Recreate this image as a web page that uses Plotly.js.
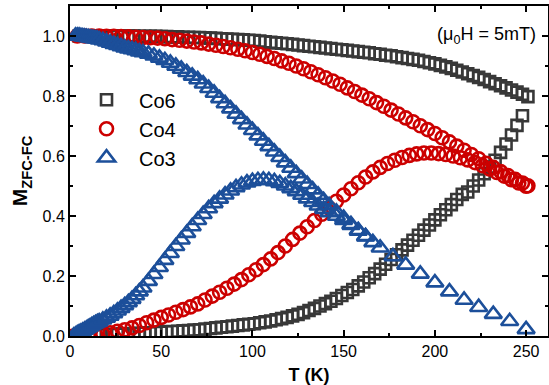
<!DOCTYPE html>
<html>
<head>
<meta charset="utf-8">
<script src="https://cdn.plot.ly/plotly-3.0.1.min.js"></script>
<style>html,body{margin:0;padding:0;background:#fff;}#chart{width:549px;height:385px;}</style>
</head>
<body>
<div id="chart"></div>
<script>
// ---- Co6 (gray squares) ----
const co6_fc_T = [5,8,11,14,17,20,23,26,29,32,35,38,41,44,47,50,53,56,59,62,65,68,71,74,77,80,83,86,89,92,95,98,101,104,107,110,113,116,119,122,125,128,131,134,137,140,143,146,149,152,155,158,161,164,167,170,173,176,179,182,185,188,191,194,197,200,203,206,209,212,215,218,221,224,227,230,233,236,239,242,245,248,251];
const co6_fc_M = [1.000,1.000,1.000,1.000,1.000,1.000,1.000,1.000,1.000,1.000,1.000,0.999,0.999,0.999,0.999,0.998,0.998,0.997,0.997,0.996,0.996,0.995,0.995,0.994,0.993,0.992,0.991,0.990,0.989,0.988,0.987,0.986,0.985,0.983,0.981,0.979,0.977,0.976,0.974,0.972,0.970,0.968,0.966,0.964,0.962,0.960,0.958,0.956,0.954,0.952,0.950,0.948,0.946,0.944,0.941,0.939,0.936,0.934,0.931,0.928,0.925,0.922,0.919,0.915,0.911,0.907,0.902,0.897,0.892,0.886,0.880,0.874,0.868,0.862,0.855,0.848,0.841,0.834,0.827,0.820,0.813,0.806,0.798];
const co6_zfc_T = [5,8,11,14,17,20,23,26,29,32,35,38,41,44,47,50,53,56,59,62,65,68,71,74,77,80,83,86,89,92,95,98,101,104,107,110,113,116,119,122,125,128,131,134,137,140,143,146,149,152,155,158,161,164,167,170,173,176,179,182,185,188,191,194,197,200,203,206,209,212,215,218,221,224,227,230,233,236,239,242,245,248];
const co6_zfc_M = [0.000,0.001,0.002,0.003,0.004,0.005,0.005,0.006,0.007,0.007,0.008,0.009,0.010,0.011,0.012,0.013,0.014,0.015,0.016,0.017,0.018,0.020,0.021,0.023,0.025,0.027,0.029,0.031,0.033,0.035,0.037,0.039,0.041,0.044,0.047,0.050,0.054,0.058,0.062,0.067,0.072,0.078,0.085,0.092,0.100,0.108,0.116,0.125,0.135,0.145,0.155,0.167,0.180,0.194,0.208,0.223,0.239,0.255,0.271,0.287,0.303,0.319,0.336,0.353,0.370,0.387,0.404,0.421,0.438,0.455,0.472,0.480,0.500,0.520,0.541,0.563,0.586,0.612,0.640,0.670,0.702,0.734];

// ---- Co4 (red circles) ----
const co4_fc_T = [4,8,12,16,20,24,28,32,36,40,44,48,52,56,60,64,68,72,76,80,84,88,92,96,100,104,108,112,116,120,124,128,132,136,140,144,148,152,156,160,164,168,172,176,180,184,188,192,196,200,204,208,212,216,220,224,228,232,236,240,244,248,251];
const co4_fc_M = [1.000,1.000,1.000,1.000,0.999,0.999,0.998,0.997,0.996,0.995,0.994,0.993,0.991,0.988,0.986,0.983,0.980,0.977,0.973,0.969,0.965,0.961,0.956,0.951,0.945,0.939,0.932,0.925,0.917,0.909,0.900,0.891,0.881,0.871,0.861,0.850,0.839,0.827,0.815,0.803,0.791,0.778,0.766,0.753,0.740,0.727,0.714,0.701,0.688,0.675,0.661,0.647,0.633,0.619,0.605,0.591,0.576,0.562,0.548,0.535,0.522,0.510,0.501];
const co4_zfc_T = [2,6,10,14,18,22,26,30,34,38,42,46,50,54,58,62,66,70,74,78,82,86,90,94,98,102,106,110,114,118,122,126,130,134,138,142,146,150,154,158,162,166,170,174,178,182,186,190,194,198,202,206,210,214,218,222,226,230,234,238,242,246,250];
const co4_zfc_M = [0.000,0.001,0.002,0.004,0.007,0.011,0.016,0.021,0.027,0.035,0.044,0.053,0.062,0.070,0.079,0.088,0.097,0.107,0.120,0.133,0.146,0.159,0.173,0.188,0.204,0.221,0.238,0.257,0.278,0.300,0.322,0.343,0.364,0.385,0.406,0.427,0.449,0.470,0.491,0.511,0.530,0.547,0.562,0.575,0.586,0.595,0.602,0.607,0.610,0.610,0.608,0.605,0.600,0.594,0.587,0.578,0.568,0.557,0.545,0.533,0.521,0.510,0.499];

// ---- Co3 (blue triangles) ----
const co3_fc_T = [3,4,5,6,7,8,9,10,11,12,13,14,15,16,18,20,22,24,26,28,30,32,34,36,38,40,43,46,49,52,55,58,61,64,67,70,73,76,79,82,85,88,91,94,97,100,103,106,109,112,115,118,121,124,127,130,133,136,139,142,146,150,154,158,162,166,170,177,184,192,200,208,216,224,232,241,250];
const co3_fc_M = [1.000,1.000,1.000,0.999,0.998,0.997,0.996,0.995,0.994,0.993,0.992,0.991,0.990,0.988,0.985,0.981,0.977,0.973,0.969,0.965,0.961,0.958,0.955,0.952,0.948,0.945,0.940,0.934,0.927,0.919,0.910,0.900,0.890,0.879,0.867,0.855,0.841,0.826,0.810,0.792,0.775,0.758,0.740,0.722,0.704,0.686,0.668,0.650,0.632,0.614,0.596,0.578,0.560,0.542,0.524,0.506,0.488,0.470,0.452,0.435,0.414,0.393,0.372,0.352,0.332,0.312,0.294,0.265,0.237,0.207,0.178,0.148,0.120,0.096,0.073,0.049,0.022];
const co3_zfc_T = [2,3,4,5,6,7,8,9,10,11,12,13,14,15,16,18,20,22,24,26,28,30,32,34,36,38,40,43,46,49,52,55,58,61,64,67,70,73,76,79,82,85,88,91,94,97,100,103,106,109,112,115,118,121,124,127,130,133,136,139,142,146,150,154,158,162];
const co3_zfc_M = [0.000,0.004,0.008,0.011,0.014,0.017,0.020,0.024,0.028,0.031,0.035,0.039,0.042,0.045,0.048,0.054,0.060,0.067,0.075,0.084,0.093,0.102,0.112,0.123,0.135,0.148,0.161,0.183,0.206,0.229,0.253,0.276,0.299,0.321,0.343,0.365,0.386,0.406,0.425,0.442,0.457,0.471,0.484,0.495,0.504,0.511,0.516,0.519,0.520,0.519,0.515,0.509,0.501,0.492,0.482,0.470,0.458,0.446,0.434,0.423,0.412,0.400,0.386,0.369,0.350,0.331];

const xTickVals = [0,50,100,150,200,250];
const yTickVals = [0,0.2,0.4,0.6,0.8,1.0];
const yTickText = ['0.0','0.2','0.4','0.6','0.8','1.0'];

const GRAY = '#383838', RED = '#cc0000', BLUE = '#1c4f9a';
const FONT = 'Liberation Sans, Arial, sans-serif';

function tr(x, y, name, color, symbol, size, show) {
  return {
    x: x, y: y, type: 'scatter', mode: 'markers', name: name,
    showlegend: show, legendgroup: name,
    marker: {symbol: symbol, size: size, color: color, line: {color: color, width: 2.6}}
  };
}

const data = [
  tr(co6_fc_T, co6_fc_M, 'Co6', GRAY, 'square-open', 11, true),
  tr(co6_zfc_T, co6_zfc_M, 'Co6', GRAY, 'square-open', 11, false),
  tr(co4_fc_T, co4_fc_M, 'Co4', RED, 'circle-open', 13, true),
  tr(co4_zfc_T, co4_zfc_M, 'Co4', RED, 'circle-open', 13, false),
  tr(co3_fc_T, co3_fc_M, 'Co3', BLUE, 'triangle-up-open', 15, true),
  tr(co3_zfc_T, co3_zfc_M, 'Co3', BLUE, 'triangle-up-open', 15, false)
];

const axisCommon = {
  showline: true, linecolor: '#000', linewidth: 2, mirror: 'allticks',
  ticks: 'inside', ticklen: 6, tickwidth: 2, tickcolor: '#000',
  showgrid: false, zeroline: false,
  tickfont: {family: FONT, size: 16, color: '#000'}
};

const layout = {
  width: 549, height: 385,
  margin: {l: 70, r: 1, t: 6, b: 49},
  paper_bgcolor: '#fff', plot_bgcolor: '#fff',
  xaxis: Object.assign({}, axisCommon, {
    range: [0, 262], tickvals: xTickVals,
    minor: {dtick: 25, ticks: 'inside', ticklen: 3, tickwidth: 2, tickcolor: '#000', tick0: 0},
    title: {text: '<b>T (K)</b>', font: {family: FONT, size: 18, color: '#000'}, standoff: 10}
  }),
  yaxis: Object.assign({}, axisCommon, {
    range: [0, 1.1], tickvals: yTickVals, ticktext: yTickText,
    minor: {dtick: 0.1, ticks: 'inside', ticklen: 3, tickwidth: 2, tickcolor: '#000', tick0: 0},
    title: {text: '<b>M<sub>ZFC-FC</sub></b>', font: {family: FONT, size: 21, color: '#000'}, standoff: 9}
  }),
  legend: {
    x: 0.0084, y: 0.775, xanchor: 'left', yanchor: 'top',
    bgcolor: 'rgba(0,0,0,0)', borderwidth: 0,
    font: {family: FONT, size: 20, color: '#000'},
    itemwidth: 55, tracegroupgap: 0
  },
  annotations: [{
    xref: 'paper', yref: 'paper', x: 0.979, y: 0.912, xanchor: 'right', yanchor: 'middle',
    text: '(μ<sub>0</sub>H = 5mT)', showarrow: false,
    font: {family: FONT, size: 18, color: '#000'}
  }]
};

Plotly.newPlot('chart', data, layout, {staticPlot: true, displayModeBar: false});
</script>
</body>
</html>
